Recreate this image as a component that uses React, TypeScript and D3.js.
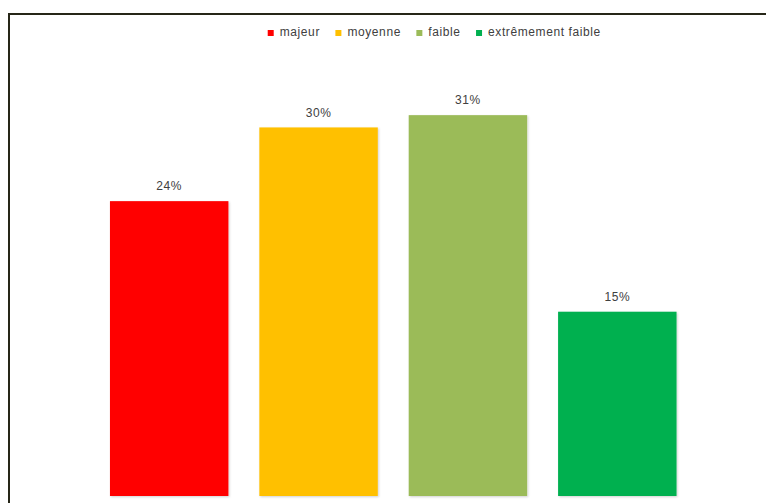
import React from "react";
import * as d3 from "d3";

const categories = ["majeur", "moyenne", "faible", "extrêmement faible"];
const values = [0.24, 0.30, 0.31, 0.15];
const colors = ["#FF0000", "#FFC000", "#9BBB59", "#00B050"];

const W = 766;
const H = 503;
const FONT = "'Liberation Sans', Arial, sans-serif";
const LS = 0.6;

function measure(text: string, size: number) {
  const c = document.createElement("canvas").getContext("2d");
  if (!c) return text.length * size * 0.5;
  c.font = `${size}px 'Liberation Sans', Arial, sans-serif`;
  return c.measureText(text).width + LS * (text.length - 1);
}

export default function App() {
  const x = d3
    .scaleBand<string>()
    .domain(categories)
    .range([94.5, 692])
    .paddingInner(0.207)
    .paddingOuter(0.1035);
  const y = d3.scaleLinear().domain([0, 0.35]).range([496, 66]);
  const fmt = d3.format(".0%");

  // legend layout
  const lgSize = 12;
  const marker = 6;
  const markerGap = 6;
  const itemGap = 16;
  const widths = categories.map((c) => measure(c, lgSize));
  const itemW = widths.map((w) => marker + markerGap + w);
  const total = d3.sum(itemW) + itemGap * (categories.length - 1);
  const lgStart = 434 - total / 2;
  const lgX: number[] = [];
  let acc = lgStart;
  itemW.forEach((w) => {
    lgX.push(acc);
    acc += w + itemGap;
  });
  const lgY = 33;

  return (
    <div style={{ position: "fixed", left: 0, top: 0, width: W, height: H, background: "#fff" }}>
      <svg width={W} height={H} style={{ display: "block" }}>
        <defs>
          <filter id="sh" x="-10%" y="-10%" width="120%" height="120%">
            <feDropShadow dx="1" dy="1" stdDeviation="1.2" floodColor="#000" floodOpacity="0.18" />
          </filter>
        </defs>
        <rect x={0} y={0} width={W} height={H} fill="#fff" />
        <line x1={8} x2={W} y1={14} y2={14} stroke="#262618" strokeWidth={2} />
        <line x1={9} x2={9} y1={13} y2={H} stroke="#262618" strokeWidth={2} />

        {categories.map((c, i) => (
          <g key={c}>
            <rect
              x={x(c)}
              y={y(values[i])}
              width={x.bandwidth()}
              height={y(0) - y(values[i])}
              fill={colors[i]}
              filter="url(#sh)"
            />
            <text
              x={(x(c) as number) + x.bandwidth() / 2}
              y={y(values[i]) - 14}
              textAnchor="middle"
              dominantBaseline="middle"
              fontFamily={FONT}
              fontSize={12}
              letterSpacing={LS}
              fill="#404040"
            >
              {fmt(values[i])}
            </text>
          </g>
        ))}

        {categories.map((c, i) => (
          <g key={"lg" + c}>
            <rect x={lgX[i]} y={lgY - marker / 2} width={marker} height={marker} fill={colors[i]} />
            <text
              x={lgX[i] + marker + markerGap}
              y={lgY}
              dominantBaseline="middle"
              fontFamily={FONT}
              fontSize={lgSize}
              letterSpacing={LS}
              fill="#404040"
            >
              {c}
            </text>
          </g>
        ))}
      </svg>
    </div>
  );
}
